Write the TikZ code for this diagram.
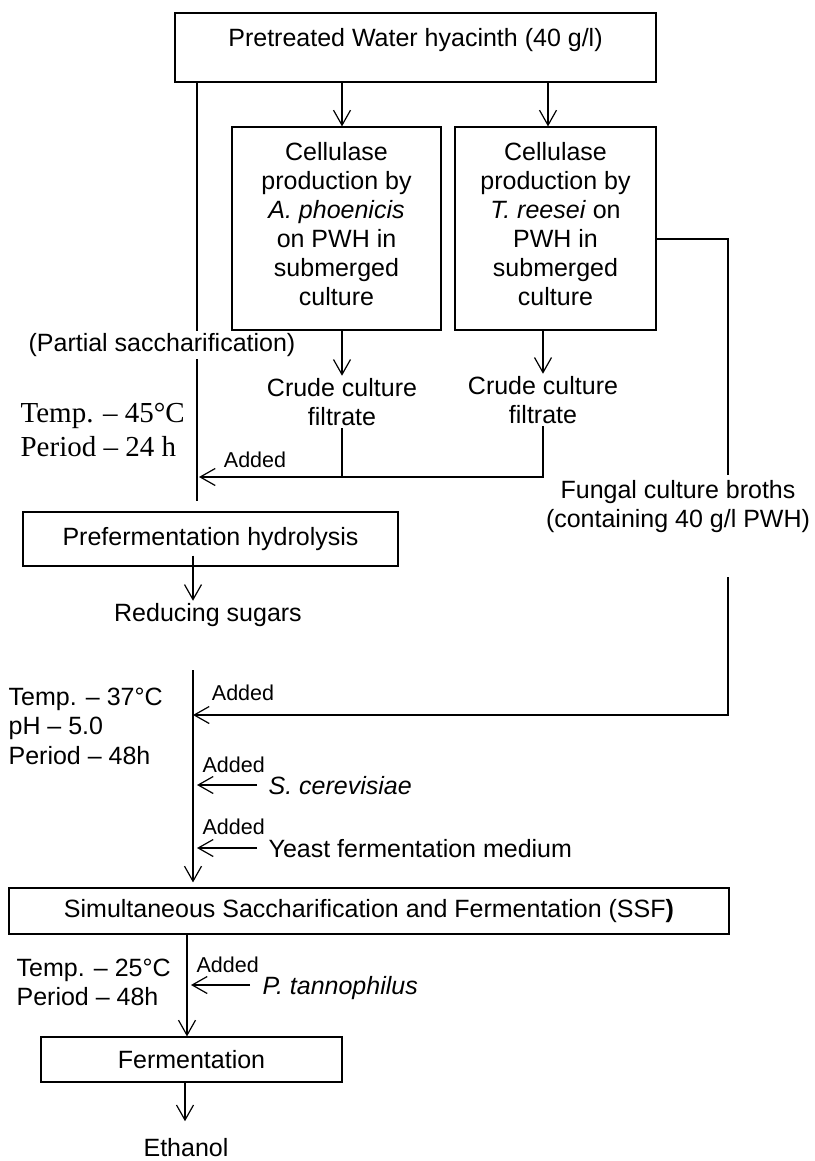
\documentclass[tikz,border=0pt]{standalone}
\usepackage{fontspec}
\setmainfont{Liberation Sans}
\newfontfamily\timesfont{Liberation Serif}
\usetikzlibrary{arrows.meta,calc,positioning}

\begin{document}
\begin{tikzpicture}[x=1pt,y=-1pt,line width=1.2pt]
  \tikzset{ box/.style={draw,line width=1.2pt,align=center},
    txt/.style={font=\fontsize{25}{29}\selectfont,align=center,inner sep=2pt},
    small/.style={font=\fontsize{21.5}{25}\selectfont,inner sep=0pt},
    side/.style={txt,anchor=west,inner sep=0pt,text depth=0pt},
    arr/.style={-{Straight Barb[length=15pt,width=17pt]}},
  }
  \useasboundingbox (0,0) rectangle (814,1161);

  % the x positions of the long vertical lines
  \coordinate (l0) at (197,0);
  \coordinate (m0) at (193,670);
  \coordinate (m1) at (187,0);
  \coordinate (m2) at (185,0);

  \node[box,txt,minimum width=481pt,text height=18pt,text depth=19pt,inner ysep=16pt] (pwh) at (415.5,47.5) {Pretreated Water hyacinth (40 g/l)};
  \node[box,txt,minimum width=209pt,minimum height=203pt,text depth=9pt] (cellA) at (336.5,228.5) {Cellulase\\production by\\\textit{A. phoenicis}\\on PWH in\\submerged\\culture};
  \node[box,txt,minimum width=201pt,minimum height=203pt,text depth=9pt] (cellT) at (555.5,228.5) {Cellulase\\production by\\\textit{T. reesei} on\\PWH in\\submerged\\culture};

  \node[txt] (crudeA) at (342,402) {Crude culture\\filtrate};
  \node[txt] (crudeT) at (543,400) {Crude culture\\filtrate};
  \node[txt] (partial) at (162,345) {(Partial saccharification)};
  \node[anchor=west,align=left,inner sep=0pt,font=\timesfont\fontsize{29}{34}\selectfont] (cond1) at (20,430) {Temp. – 45°C\\Period – 24 h};
  \node[small] (add0) at (255,460) {Added};
  \node[txt] (broth) at (678,507) {Fungal culture broths\\(containing 40 g/l PWH)};

  \node[box,txt,minimum width=375pt,minimum height=54pt] (pre) at (210.5,539) {Prefermentation hydrolysis};
  \node[txt] (sugar) at (208,615) {Reducing sugars};

  \node[anchor=west,align=left,inner sep=0pt,font=\fontsize{25}{29.5}\selectfont] (cond2) at (8,726) {Temp. – 37°C\\pH – 5.0\\Period – 48h};
  \node[small] (add1) at (243,693) {Added};
  \node[small,anchor=west] (add2) at (202,765) {Added};
  \node[side] (scer) at (268,785) {\textit{S. cerevisiae}};
  \node[small,anchor=west] (add3) at (202,827) {Added};
  \node[side] (yeast) at (268,848) {Yeast fermentation medium};

  \node[box,txt,minimum width=720pt,minimum height=46pt] (ssf) at (369,911) {Simultaneous Saccharification and Fermentation (SSF\textbf{)}};
  \node[anchor=west,align=left,inner sep=0pt,font=\fontsize{25}{29}\selectfont] (cond3) at (16,982) {Temp. – 25°C\\Period – 48h};
  \node[small,anchor=west] (add4) at (196,965) {Added};
  \node[side] (ptan) at (262,985) {\textit{P. tannophilus}};
  \node[box,txt,minimum width=301pt,minimum height=45pt] (ferm) at (191.5,1059.5) {Fermentation};
  \node[txt] (eth) at (186,1148) {Ethanol};

  % enzyme production
  \draw[arr] (pwh.south -| crudeA) -- (cellA.north -| crudeA);
  \draw[arr] (pwh.south -| 548,0) -- (cellT.north -| 548,0);
  \draw[arr] (cellA.south -| crudeA) -- (crudeA.north);
  \draw[arr] (cellT.south -| crudeT) -- (crudeT.north);

  % the filtrates go to the partial saccharification
  \coordinate (hz) at (199,477);
  \draw (pwh.south -| l0) -- (partial.north -| l0);
  \draw[shorten >=10pt] (partial.south -| l0) -- (pre.north -| l0);
  \draw (crudeA.south) -- (crudeA.south |- hz);
  \draw[arr] (crudeT.south) -- (crudeT.south |- hz) -- (hz);
  \draw[arr] ($(pre.south -| m0)+(0,-11)$) -- (sugar.north -| m0);

  % the broths, with a gap for their text
  \coordinate (r1) at (728,239);
  \coordinate (r2) at (728,475);
  \coordinate (r3) at (728,577);
  \coordinate (r4) at (728,715);
  \draw (cellT.east |- r1) -- (r1) -- (r2);
  \draw[arr] (r3) -- (r4) -- (r4 -| m0);

  % SSF
  \draw[arr,shorten >=5pt] (m0) -- (ssf.north -| m0);
  \draw[arr,shorten >=4pt] ([xshift=-11pt]scer.west) -- (scer.west -| m0);
  \draw[arr,shorten >=4pt] ([xshift=-11pt]yeast.west) -- (yeast.west -| m0);

  % fermentation
  \draw[arr] (ssf.south -| m1) -- (ferm.north -| m1);
  \draw[arr,shorten >=4pt] ([xshift=-12pt]ptan.west) -- (ptan.west -| m1);
  \draw[arr,shorten >=15pt] (ferm.south -| m2) -- (eth.north -| m2);
\end{tikzpicture}
\end{document}
